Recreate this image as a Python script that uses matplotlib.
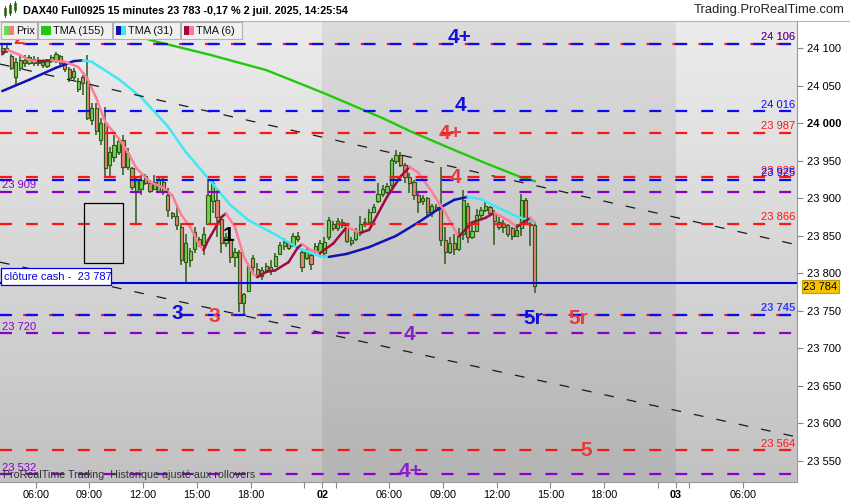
import matplotlib
matplotlib.use("Agg")
import matplotlib.pyplot as plt
import numpy as np
from matplotlib.colors import LinearSegmentedColormap
from matplotlib.lines import Line2D
from matplotlib.patches import Rectangle

plt.rcParams["font.family"] = ["Liberation Sans", "DejaVu Sans"]
plt.rcParams["lines.scale_dashes"] = False

W, H = 850, 500

# ---- data ---------------------------------------------------------------
# 15 min bars: 1 July from 04:00, 2 July from the 02:15 session open
d1_open = [24097, 24101, 24090, 24062, 24074, 24084, 24080, 24086, 24080, 24082,
           24077, 24083, 24083, 24090, 24080, 24073, 24062, 24046, 24062, 24055,
           24005, 24020, 23978, 24000, 23945, 23955, 23962, 23978, 23942, 23940,
           23909, 23912, 23930, 23920, 23912, 23910, 23922, 23904, 23880, 23876,
           23862, 23815, 23818, 23832, 23846, 23838, 23866, 23897, 23898, 23872,
           23840, 23846, 23822, 23828, 23760, 23776, 23821, 23806, 23797, 23804,
           23808, 23810, 23826, 23836, 23840, 23836, 23850, 23828, 23820, 23824,
           23830, 23828]
d1_high = [24104, 24106, 24092, 24087, 24090, 24091, 24091, 24090, 24088, 24084,
           24086, 24091, 24095, 24091, 24083, 24075, 24074, 24060, 24064, 24091,
           24027, 24027, 24007, 24022, 23968, 23984, 23980, 23984, 23967, 23942,
           23929, 23931, 23933, 23924, 23931, 23928, 23927, 23914, 23882, 23893,
           23867, 23853, 23834, 23862, 23848, 23862, 23927, 23924, 23911, 23875,
           23854, 23848, 23834, 23831, 23774, 23814, 23824, 23814, 23808, 23814,
           23818, 23827, 23842, 23847, 23841, 23854, 23855, 23831, 23834, 23827,
           23840, 23844]
d1_low = [24094, 24094, 24071, 24051, 24070, 24075, 24078, 24077, 24076, 24074,
          24074, 24080, 24080, 24078, 24068, 24055, 24058, 24042, 24038, 24004,
          23998, 23984, 23971, 23930, 23928, 23948, 23958, 23931, 23938, 23911,
          23867, 23904, 23918, 23907, 23911, 23908, 23904, 23875, 23873, 23858,
          23811, 23787, 23809, 23827, 23835, 23824, 23864, 23880, 23849, 23827,
          23835, 23814, 23809, 23748, 23744, 23775, 23800, 23794, 23791, 23800,
          23798, 23808, 23824, 23831, 23831, 23835, 23842, 23802, 23818, 23804,
          23827, 23822]
d1_close = [24101, 24098, 24074, 24082, 24084, 24080, 24088, 24080, 24082, 24078,
            24083, 24088, 24092, 24080, 24073, 24060, 24070, 24056, 24054, 24007,
            24020, 23990, 24000, 23940, 23962, 23971, 23976, 23942, 23960, 23915,
            23925, 23925, 23920, 23910, 23922, 23925, 23908, 23884, 23876, 23865,
            23818, 23840, 23830, 23855, 23838, 23852, 23904, 23920, 23875, 23840,
            23848, 23822, 23828, 23760, 23772, 23809, 23808, 23798, 23804, 23810,
            23804, 23823, 23838, 23842, 23834, 23850, 23846, 23808, 23830, 23812,
            23836, 23840]

d2_open = [23827, 23848, 23866, 23860, 23868, 23864, 23840, 23846, 23854, 23866,
           23868, 23882, 23896, 23906, 23908, 23918, 23950, 23958, 23944, 23928,
           23922, 23904, 23896, 23900, 23880, 23888, 23886, 23845, 23828, 23840,
           23832, 23852, 23890, 23848, 23856, 23878, 23884, 23888, 23880, 23868,
           23862, 23864, 23860, 23850, 23860, 23898, 23866, 23864]
d2_high = [23848, 23875, 23870, 23874, 23872, 23867, 23848, 23860, 23876, 23874,
           23886, 23892, 23920, 23918, 23920, 23954, 23964, 23962, 23947, 23934,
           23925, 23909, 23904, 23902, 23893, 23892, 23942, 23862, 23848, 23852,
           23860, 23911, 23894, 23866, 23886, 23888, 23896, 23890, 23884, 23875,
           23871, 23866, 23862, 23866, 23906, 23900, 23874, 23868]
d2_low = [23820, 23845, 23857, 23857, 23860, 23840, 23836, 23843, 23850, 23862,
          23864, 23880, 23894, 23902, 23906, 23914, 23946, 23942, 23920, 23907,
          23898, 23880, 23891, 23875, 23875, 23882, 23836, 23813, 23826, 23824,
          23830, 23844, 23840, 23846, 23855, 23874, 23882, 23876, 23838, 23858,
          23854, 23848, 23844, 23848, 23850, 23864, 23836, 23774]
d2_close = [23842, 23871, 23860, 23870, 23864, 23843, 23845, 23856, 23866, 23868,
            23882, 23888, 23906, 23912, 23916, 23951, 23958, 23945, 23928, 23920,
            23904, 23895, 23900, 23882, 23890, 23884, 23845, 23828, 23840, 23832,
            23850, 23898, 23848, 23856, 23878, 23884, 23890, 23880, 23870, 23862,
            23866, 23852, 23850, 23858, 23898, 23866, 23864, 23783]

# moving averages, bar number 0 = first bar of 1 July
tma155_bar = [22, 33, 46, 59, 72, 85, 91, 100, 108, 116, 119]
tma155_val = [24142, 24111, 24092, 24071, 24040, 24007, 23990, 23967, 23947, 23928, 23923]

tma31_bar = [0, 6, 12, 16, 18, 20, 26, 31, 37, 41, 46, 51, 55, 61, 66, 71, 73, 77, 82, 88,
             93, 98, 101, 104, 107, 111, 115, 119]
tma31_val = [24043, 24058, 24074, 24083, 24084, 24082, 24059, 24035, 23996, 23962,
             23927, 23891, 23871, 23852, 23834, 23823, 23822, 23826, 23835, 23850,
             23868, 23888, 23898, 23902, 23899, 23887, 23876, 23868]

tma6_bar = [0, 1, 4, 6, 8, 11, 14, 17, 19, 21, 23, 26, 28, 30, 33, 36, 38, 40, 42, 44,
            45, 46, 49, 50, 52, 54, 56, 57, 59, 61, 64, 66, 67, 69, 71, 74, 77, 80, 82, 86,
            89, 91, 93, 96, 99, 102, 105, 108, 110, 113, 115, 118, 119]
tma6_val = [24092, 24098, 24091, 24084, 24083, 24084, 24082, 24075, 24060, 24034,
            24002, 23980, 23962, 23940, 23922, 23914, 23904, 23878, 23862, 23838,
            23831, 23844, 23875, 23880, 23862, 23822, 23800, 23795, 23802, 23804,
            23815, 23834, 23839, 23831, 23827, 23840, 23862, 23854, 23858, 23902,
            23929, 23942, 23934, 23909, 23881, 23849, 23868, 23874, 23881, 23871,
            23862, 23874, 23868]

# drawn horizontal levels
red_levels = [24106, 23987, 23928, 23866, 23745, 23564]
blue_levels = [24106, 24016, 23925, 23745]
purple_levels = [23909, 23720, 23532]
cash_close = 23787
last_price = 23784

# trend lines (price at left edge, price at right edge)
upper_trend = [24079, 23838]
lower_trend = [23815, 23582]

y_ticks = list(range(23550, 24101, 50))

# x axis: trading hours since 04:00 on 1 July, day sessions glued together
DAY_BASE = {1: 0.0, 2: 18.0, 3: 37.75}
DAY_OPEN = {1: 4.0, 2: 2.25, 3: 2.25}
x_tick_times = [(1, 6), (1, 9), (1, 12), (1, 15), (1, 18), (1, 21), (2, 2.25), (2, 3),
                (2, 6), (2, 9), (2, 12), (2, 15), (2, 18), (2, 21), (3, 2.25), (3, 3), (3, 6)]
x_tick_labels = ["06:00", "09:00", "12:00", "15:00", "18:00", "", "02", "",
                 "06:00", "09:00", "12:00", "15:00", "18:00", "", "03", "", "06:00"]

XMAX = 44.53
YMIN, YMAX = 23522, 24136.4

UP_FILL = "#74d64e"
DOWN_FILL = "#ec8276"
WICK = "#2c5a17"
RED = "#ff1414"
BLUE = "#0a0aff"
PURPLE = "#8a00c8"


def to_x(day, clock):
    return DAY_BASE[day] + clock - DAY_OPEN[day]


def bar_x(k):
    if k < len(d1_open):
        return (k + 0.5) * 0.25
    return DAY_BASE[2] + (k - len(d1_open) + 0.5) * 0.25


def fmt(v):
    return f"{v:,}".replace(",", " ")


def fx(px):
    return px / W


def fy(py):
    return 1 - py / H


def two_tone(ax, bars, vals, up_color, down_color, lw):
    xs = [bar_x(b) for b in bars]
    for i in range(len(xs) - 1):
        c = up_color if vals[i + 1] >= vals[i] else down_color
        ax.plot(xs[i:i + 2], vals[i:i + 2], color=c, lw=lw,
                solid_capstyle="round", zorder=4)


def level(ax, price, color, shift=0.0, lw=1.6):
    ax.axhline(price, color=color, lw=lw, linestyle=(shift, (8.6, 10.1)), zorder=5)


fig = plt.figure(figsize=(W / 100, H / 100), dpi=100, facecolor="white")
ax = fig.add_axes([0, 18 / H, 797 / W, 461 / H])

# background: vertical gradient, second session a bit darker
bg = LinearSegmentedColormap.from_list("bg", ["#c2c2c2", "#ececec"])
ax.imshow(np.linspace(0, 1, 256)[:, None], extent=(0, XMAX, YMIN, YMAX),
          aspect="auto", cmap=bg, origin="lower", zorder=0)
ax.axvspan(DAY_BASE[2], DAY_BASE[3], color="black", alpha=0.065, lw=0, zorder=0.5)

# candles
opens = np.array(d1_open + d2_open, dtype=float)
highs = np.array(d1_high + d2_high, dtype=float)
lows = np.array(d1_low + d2_low, dtype=float)
closes = np.array(d1_close + d2_close, dtype=float)
xs = np.array([bar_x(k) for k in range(len(opens))])
up = closes >= opens
body = np.where(np.abs(closes - opens) < 1.5, np.where(up, 1.5, -1.5), closes - opens)
ax.vlines(xs, lows, highs, color=WICK, lw=1.1, zorder=3)
ax.bar(xs, body, bottom=opens, width=0.18, color=np.where(up, UP_FILL, DOWN_FILL),
       edgecolor=WICK, linewidth=0.85, zorder=3.1)

# moving averages
ax.plot([bar_x(b) for b in tma155_bar], tma155_val, color="#22c80c", lw=1.7, zorder=4)
two_tone(ax, tma31_bar, tma31_val, "#1212b4", "#3ceaf6", 1.8)
two_tone(ax, tma6_bar, tma6_val, "#9e0c3e", "#ff7b9c", 1.8)

# trend lines
ax.plot([0, XMAX], upper_trend, color="#1a1a1a", lw=0.9, linestyle=(0, (7, 9.5)), zorder=4.5)
ax.plot([0, XMAX], lower_trend, color="#1a1a1a", lw=0.9, linestyle=(0, (7, 9.5)), zorder=4.5)

# levels
for p in red_levels:
    level(ax, p, RED, shift=2.0 if p in blue_levels else 0.0)
for p in blue_levels:
    level(ax, p, BLUE)
for p in purple_levels:
    level(ax, p, PURPLE)
ax.axhline(cash_close, color="#0000e6", lw=1.5, zorder=5)

# level labels
for p in red_levels:
    if p == 23745:
        continue
    ax.text(44.42, p + 5, fmt(p), color=RED, fontsize=8, ha="right", va="baseline", zorder=6)
for p in blue_levels:
    bold = "bold" if p == 23745 else "normal"
    ax.text(44.45, p + 5, fmt(p), color=BLUE, fontsize=8, ha="right", va="baseline",
            fontweight=bold, alpha=0.75 if p in red_levels else 1, zorder=6)
for p in purple_levels:
    ax.text(0.12, p + 5, fmt(p), color=PURPLE, fontsize=8, ha="left", va="baseline", zorder=6)

# wave counts
waves = [("2", 1.06, 24113, "#f03030"), ("4+", 25.7, 24115, "#1010e0"),
         ("4", 25.75, 24024, "#1010e0"), ("4+", 25.2, 23987, "#e83a3a"),
         ("4", 25.45, 23928, "#e83a3a"), ("3", 9.9, 23747, "#1010e0"),
         ("3", 11.95, 23742, "#e83a3a"), ("1", 12.75, 23851, "black"),
         ("4", 22.9, 23718, "#8a1ecb"), ("5r", 29.8, 23740, "#1010e0"),
         ("5r", 32.3, 23740, "#e83a3a"), ("5", 32.75, 23564, "#e83a3a"),
         ("4+", 22.95, 23536, "#8a1ecb")]
for txt, x, y, c in waves:
    ax.text(x, y, txt, color=c, fontsize=15, fontweight="bold", ha="center",
            va="center", zorder=7)

# drawn box
ax.add_patch(Rectangle((4.7, 23814), 2.2, 80, fill=False, edgecolor="black", lw=0.9, zorder=6))

ax.set_xlim(0, XMAX)
ax.set_ylim(YMIN, YMAX)

# axes
ax.yaxis.tick_right()
ax.set_yticks(y_ticks)
ax.set_yticklabels([fmt(v) for v in y_ticks])
for lab, v in zip(ax.get_yticklabels(), y_ticks):
    if v == 24000:
        lab.set_fontweight("bold")
ax.set_xticks([to_x(d, c) for d, c in x_tick_times])
ax.set_xticklabels(x_tick_labels)
for lab in ax.get_xticklabels():
    if lab.get_text() in ("02", "03"):
        lab.set_fontweight("bold")
        lab.set_fontsize(9)
ax.tick_params(axis="y", length=4, width=0.8, color="#888888", labelsize=8, pad=3)
ax.tick_params(axis="x", length=4, width=0.8, color="#888888", labelsize=7.8, pad=2)
for side in ("top", "left"):
    ax.spines[side].set_visible(False)
for side in ("right", "bottom"):
    ax.spines[side].set_color("#999999")
    ax.spines[side].set_linewidth(0.8)

# title bar
fig.add_artist(Line2D([0, 1], [fy(21), fy(21)], color="#b4b4b4", lw=0.8,
                      transform=fig.transFigure))
for x0, y0, h in [(4, 8, 7), (9, 5, 8), (14, 3, 7)]:
    fig.add_artist(Line2D([fx(x0 + 1), fx(x0 + 1)], [fy(y0 + h + 2), fy(y0 - 2)],
                          color=WICK, lw=0.7, transform=fig.transFigure))
    fig.add_artist(Rectangle((fx(x0), fy(y0 + h)), 2 / W, h / H, facecolor="#4cb82c",
                             edgecolor=WICK, lw=0.5, transform=fig.transFigure))
fig.text(fx(23), fy(10.5), "DAX40 Full0925 15 minutes 23 783 -0,17 % 2 juil. 2025, 14:25:54",
         fontsize=7.8, fontweight="bold", va="center", ha="left")
fig.text(fx(845), fy(10.5), "Trading.ProRealTime.com", fontsize=9.4, va="center", ha="right",
         color="#222222")

# indicator legend
legend_items = [(1, 37, "Prix", UP_FILL, DOWN_FILL), (38, 112, "TMA (155)", "#22c80c", "#22c80c"),
                (113, 180, "TMA (31)", "#1212b4", "#3ceaf6"), (181, 242, "TMA (6)", "#9e0c3e", "#ff7b9c")]
for x0, x1, name, c1, c2 in legend_items:
    fig.add_artist(Rectangle((fx(x0), fy(39)), (x1 - x0) / W, 17 / H, facecolor="#f0f0f0",
                             edgecolor="#b0b0b0", lw=0.8, transform=fig.transFigure))
    fig.add_artist(Rectangle((fx(x0 + 3), fy(35)), 5 / W, 9 / H, facecolor=c1, lw=0,
                             transform=fig.transFigure))
    fig.add_artist(Rectangle((fx(x0 + 8), fy(35)), 5 / W, 9 / H, facecolor=c2, lw=0,
                             transform=fig.transFigure))
    fig.text(fx(x0 + 15), fy(30.5), name, fontsize=7.8, va="center", ha="left", color="#111111")

# cash close tag
fig.add_artist(Rectangle((fx(0.5), fy(284.5)), 110 / W, 16.5 / H, facecolor="white",
                         edgecolor="#0000e6", lw=0.9, transform=fig.transFigure))
fig.text(fx(4), fy(276.5), f"clôture cash -  {fmt(cash_close)}", fontsize=8, color="#0000e6",
         va="center", ha="left")

# last price tag
fig.add_artist(Rectangle((fx(802), fy(293)), 37 / W, 13 / H, facecolor="#f6c400",
                         edgecolor="#c79a00", lw=0.8, transform=fig.transFigure))
fig.text(fx(820.5), fy(286.5), fmt(last_price), fontsize=8, va="center", ha="center")

# footer
fig.text(fx(3), fy(475.5), "ProRealTime Trading  Historique ajusté aux rollovers",
         fontsize=7.7, color="#333333", va="center", ha="left")

fig.savefig("out.png", dpi=100)
